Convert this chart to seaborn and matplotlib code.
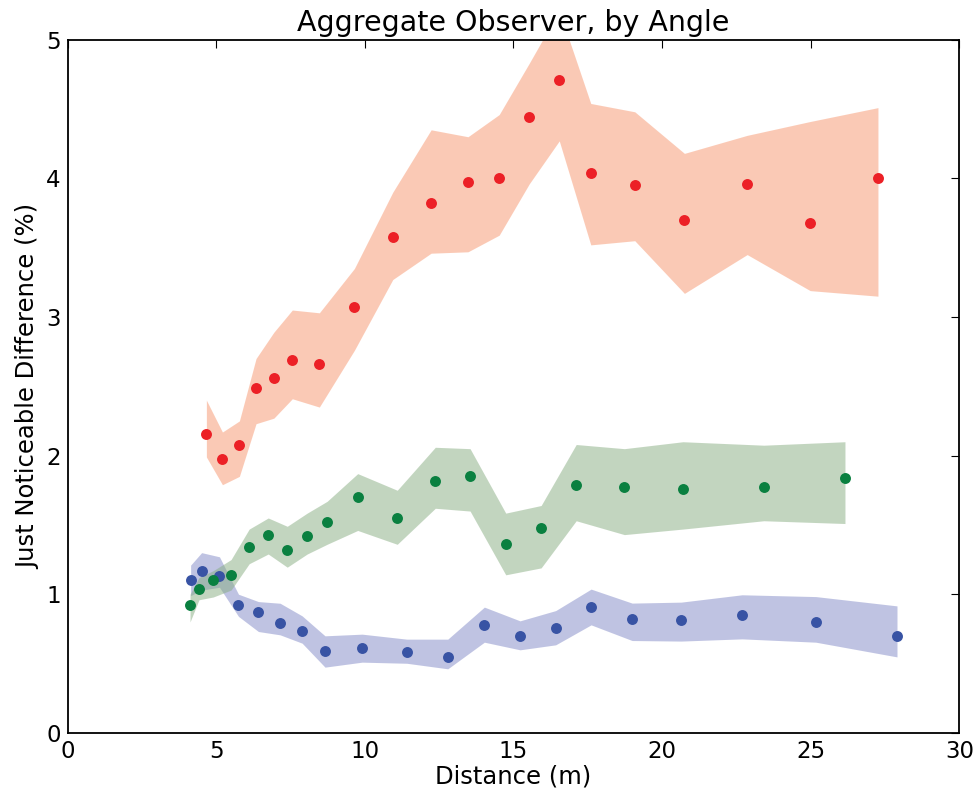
import numpy as np
import pandas as pd
import matplotlib
matplotlib.use("Agg")
import matplotlib.pyplot as plt
import seaborn as sns

# ---- data ----
red_x = [4.67, 5.21, 5.78, 6.34, 6.94, 7.56, 8.47, 9.65, 10.94, 12.23, 13.47, 14.52,
         15.53, 16.54, 17.60, 19.08, 20.75, 22.86, 24.98, 27.26]
red_y = [2.155, 1.975, 2.08, 2.49, 2.56, 2.69, 2.66, 3.07, 3.58, 3.82, 3.97, 4.00,
         4.44, 4.71, 4.04, 3.955, 3.70, 3.96, 3.68, 4.00]
red_hi = [2.40, 2.17, 2.25, 2.70, 2.89, 3.05, 3.03, 3.35, 3.90, 4.35, 4.30, 4.46,
          4.83, 5.21, 4.54, 4.48, 4.18, 4.31, 4.41, 4.51]
red_lo = [1.99, 1.79, 1.85, 2.23, 2.27, 2.41, 2.35, 2.76, 3.27, 3.46, 3.47, 3.59,
          3.96, 4.27, 3.52, 3.55, 3.17, 3.45, 3.19, 3.15]

green_x = [4.12, 4.42, 4.90, 5.50, 6.11, 6.75, 7.39, 8.06, 8.73, 9.76, 11.09, 12.37,
           13.54, 14.74, 15.93, 17.11, 18.73, 20.70, 23.42, 26.15]
green_y = [0.92, 1.04, 1.10, 1.14, 1.34, 1.43, 1.32, 1.42, 1.52, 1.70, 1.55, 1.82,
           1.85, 1.36, 1.48, 1.79, 1.775, 1.76, 1.775, 1.84]
green_hi = [1.00, 1.12, 1.17, 1.25, 1.47, 1.55, 1.49, 1.585, 1.67, 1.87, 1.75, 2.06,
            2.05, 1.585, 1.64, 2.08, 2.05, 2.10, 2.075, 2.10]
green_lo = [0.80, 0.96, 0.98, 1.03, 1.22, 1.29, 1.195, 1.29, 1.36, 1.46, 1.36, 1.62,
            1.60, 1.14, 1.19, 1.53, 1.43, 1.47, 1.53, 1.51]

blue_x = [4.14, 4.51, 5.11, 5.75, 6.42, 7.15, 7.89, 8.66, 9.91, 11.41, 12.79, 14.02,
          15.22, 16.42, 17.61, 18.99, 20.64, 22.69, 25.17, 27.90]
blue_y = [1.10, 1.17, 1.13, 0.92, 0.87, 0.79, 0.735, 0.594, 0.613, 0.582, 0.548, 0.777,
          0.698, 0.755, 0.907, 0.82, 0.813, 0.849, 0.80, 0.70]
blue_hi = [1.21, 1.30, 1.27, 1.00, 0.947, 0.935, 0.844, 0.70, 0.712, 0.676, 0.676, 0.907,
           0.808, 0.882, 1.037, 0.936, 0.943, 0.996, 0.983, 0.916]
blue_lo = [0.99, 1.03, 1.05, 0.84, 0.731, 0.707, 0.647, 0.474, 0.51, 0.502, 0.462, 0.654,
           0.599, 0.635, 0.779, 0.666, 0.662, 0.678, 0.654, 0.548]

series = [
    ("red", red_x, red_y, red_lo, red_hi, "#f7956d", "#ec2026"),
    ("blue", blue_x, blue_y, blue_lo, blue_hi, "#8189c7", "#3853a4"),
    ("green", green_x, green_y, green_lo, green_hi, "#87ad81", "#0a8040"),
]

sns.set_style("white")
plt.rcParams['font.family'] = ['DejaVu Sans']
plt.rcParams['text.color'] = 'black'
plt.rcParams['axes.labelcolor'] = 'black'
plt.rcParams['xtick.color'] = 'black'
plt.rcParams['ytick.color'] = 'black'
plt.rcParams['xtick.direction'] = 'in'
plt.rcParams['ytick.direction'] = 'in'

fig = plt.figure(figsize=(9.79, 7.94), dpi=100)
ax = fig.add_axes([0.069, 0.077, 0.911, 0.873])

for name, xs, ys, lo, hi, band, pt in series:
    ax.fill_between(xs, lo, hi, color=band, alpha=0.5, linewidth=0, zorder=1)

for name, xs, ys, lo, hi, band, pt in series:
    df = pd.DataFrame({"x": xs, "y": ys})
    sns.scatterplot(data=df, x="x", y="y", ax=ax, color=pt, s=62, linewidth=0, zorder=3)

ax.set_xlim(0, 30)
ax.set_ylim(0, 5)
ax.set_xticks([0, 5, 10, 15, 20, 25, 30])
ax.set_yticks([0, 1, 2, 3, 4, 5])
ax.tick_params(axis='both', which='both', direction='in', top=True, right=True,
               length=6, width=0.8, labelsize=16.5, pad=5, color='black',
               labelcolor='black')
for sp in ax.spines.values():
    sp.set_visible(True)
    sp.set_color('black')
    sp.set_linewidth(1.3)

ax.set_xlabel("Distance (m)", fontsize=17.5, labelpad=1)
ax.set_ylabel("Just Noticeable Difference (%)", fontsize=17.5, labelpad=4)
ax.set_title("Aggregate Observer, by Angle", fontsize=20.5, pad=6)

fig.savefig("out.png", dpi=100)
